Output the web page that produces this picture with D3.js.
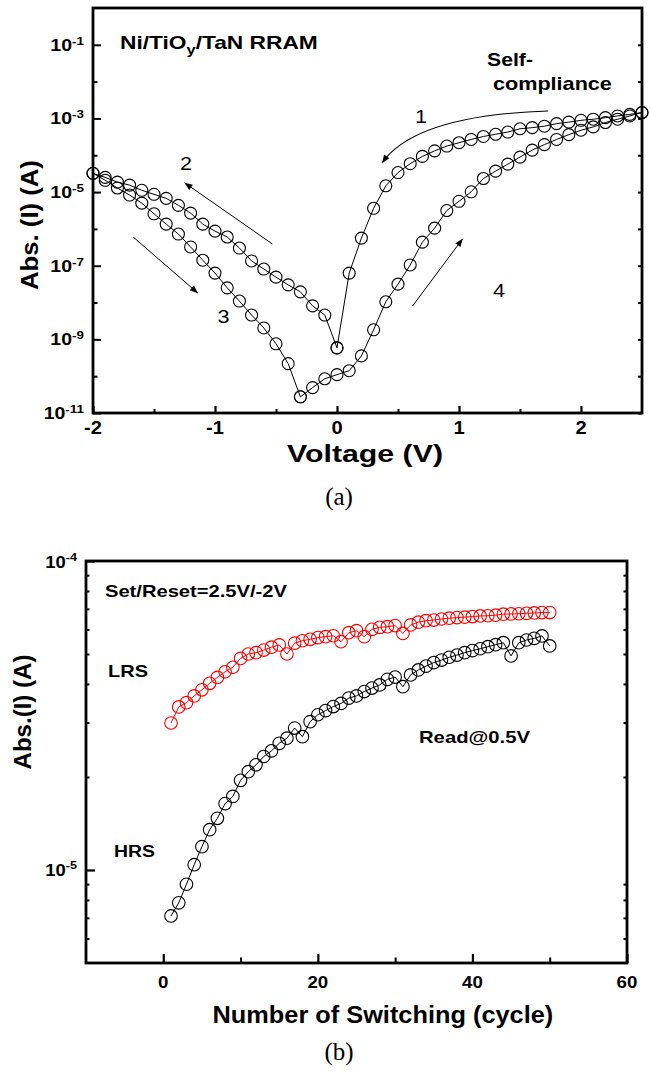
<!DOCTYPE html>
<html>
<head>
<meta charset="utf-8">
<script src="https://cdn.jsdelivr.net/npm/d3@7"></script>
<style>
  html, body { margin: 0; padding: 0; background: #fff; }
  svg { display: block; }
</style>
</head>
<body>
<script>
// ---------- Panel (a): I-V sweeps of the Ni/TiOy/TaN cell ----------
const sweep1V = [2.5, 2.4, 2.3, 2.2, 2.1, 2.0, 1.9, 1.8, 1.7, 1.6, 1.5, 1.4, 1.3, 1.2, 1.1, 1.0, 0.9, 0.8, 0.7, 0.6, 0.5, 0.4, 0.3, 0.2, 0.1, 0.0];
const sweep1I = [1.45e-3, 1.29e-3, 1.17e-3, 1.05e-3, 9.55e-4, 8.91e-4, 7.94e-4, 7.24e-4, 6.17e-4, 5.62e-4, 5.25e-4, 4.27e-4, 3.72e-4, 3.24e-4, 2.69e-4, 2.19e-4, 1.78e-4, 1.32e-4, 9.33e-5, 5.89e-5, 3.39e-5, 1.48e-5, 3.63e-6, 5.62e-7, 6.31e-8, 5.89e-10];

const sweep2V = [0.0, -0.1, -0.2, -0.3, -0.4, -0.5, -0.6, -0.7, -0.8, -0.9, -1.0, -1.1, -1.2, -1.3, -1.4, -1.5, -1.6, -1.7, -1.8, -1.9, -2.0];
const sweep2I = [5.89e-10, 4.57e-9, 8.13e-9, 1.95e-8, 3.02e-8, 4.90e-8, 8.13e-8, 1.35e-7, 3.02e-7, 6.03e-7, 8.71e-7, 1.35e-6, 2.69e-6, 4.37e-6, 6.76e-6, 8.71e-6, 1.12e-5, 1.55e-5, 1.86e-5, 2.51e-5, 3.24e-5];

const sweep3V = [-2.0, -1.9, -1.8, -1.7, -1.6, -1.5, -1.4, -1.3, -1.2, -1.1, -1.0, -0.9, -0.8, -0.7, -0.6, -0.5, -0.4, -0.3];
const sweep3I = [3.24e-5, 2.09e-5, 1.29e-5, 8.32e-6, 5.01e-6, 2.57e-6, 1.35e-6, 7.24e-7, 3.24e-7, 1.41e-7, 6.31e-8, 2.51e-8, 1.10e-8, 4.57e-9, 2.04e-9, 7.59e-10, 2.19e-10, 2.75e-11];

const sweep4V = [-0.3, -0.2, -0.1, 0.0, 0.1, 0.2, 0.3, 0.4, 0.5, 0.6, 0.7, 0.8, 0.9, 1.0, 1.1, 1.2, 1.3, 1.4, 1.5, 1.6, 1.7, 1.8, 1.9, 2.0, 2.1, 2.2, 2.3, 2.4, 2.5];
const sweep4I = [2.75e-11, 4.90e-11, 8.51e-11, 1.10e-10, 1.41e-10, 3.55e-10, 1.82e-9, 1.05e-8, 3.16e-8, 1.05e-7, 4.37e-7, 1.05e-6, 3.16e-6, 5.62e-6, 1.02e-5, 2.34e-5, 3.72e-5, 5.75e-5, 8.91e-5, 1.38e-4, 1.95e-4, 2.69e-4, 3.63e-4, 4.79e-4, 5.89e-4, 7.76e-4, 9.55e-4, 1.17e-3, 1.45e-3];

const voltTicksMajor = [-2, -1, 0, 1, 2];
const voltTicksMinor = [-1.5, -0.5, 0.5, 1.5];
const voltTickLabels = ["-2", "-1", "0", "1", "2"];
const currTicksLabelled = [1e-11, 1e-9, 1e-7, 1e-5, 1e-3, 1e-1];
const currTickExponents = ["-11", "-9", "-7", "-5", "-3", "-1"];
const currTicksUnlabelled = [1e-10, 1e-8, 1e-6, 1e-4, 1e-2];

// sweep-direction arrows: [startV, startI, endV, endI] (arrow 1 is curved through a control point)
const arrow1 = [1.73, 1.6e-3, 0.64, 1.2e-3, 0.37, 6.2e-5];
const arrow2 = [-0.53, 3.9e-7, -1.25, 1.8e-5];
const arrow3 = [-1.67, 6.0e-7, -1.14, 1.8e-8];
const arrow4 = [0.62, 8.1e-9, 1.03, 5.4e-7];

// ---------- Panel (b): read current vs. switching cycle ----------
const cycles = [1, 2, 3, 4, 5, 6, 7, 8, 9, 10, 11, 12, 13, 14, 15, 16, 17, 18, 19, 20, 21, 22, 23, 24, 25, 26, 27, 28, 29, 30, 31, 32, 33, 34, 35, 36, 37, 38, 39, 40, 41, 42, 43, 44, 45, 46, 47, 48, 49, 50];
const lrsCurrent = [2.99e-5, 3.37e-5, 3.48e-5, 3.66e-5, 3.83e-5, 4.02e-5, 4.20e-5, 4.38e-5, 4.53e-5, 4.84e-5,
                    5.00e-5, 5.05e-5, 5.15e-5, 5.26e-5, 5.35e-5, 5.00e-5, 5.42e-5, 5.52e-5, 5.58e-5, 5.65e-5,
                    5.69e-5, 5.73e-5, 5.48e-5, 5.86e-5, 5.95e-5, 5.69e-5, 6.01e-5, 6.10e-5, 6.13e-5, 6.18e-5,
                    5.83e-5, 6.21e-5, 6.34e-5, 6.41e-5, 6.44e-5, 6.49e-5, 6.53e-5, 6.56e-5, 6.58e-5, 6.61e-5,
                    6.64e-5, 6.65e-5, 6.68e-5, 6.73e-5, 6.74e-5, 6.75e-5, 6.77e-5, 6.79e-5, 6.81e-5, 6.81e-5];
const hrsCurrent = [7.10e-6, 7.83e-6, 8.99e-6, 1.04e-5, 1.19e-5, 1.35e-5, 1.47e-5, 1.64e-5, 1.73e-5, 1.95e-5,
                    2.08e-5, 2.19e-5, 2.33e-5, 2.43e-5, 2.57e-5, 2.67e-5, 2.88e-5, 2.70e-5, 3.02e-5, 3.18e-5,
                    3.28e-5, 3.38e-5, 3.46e-5, 3.60e-5, 3.66e-5, 3.78e-5, 3.88e-5, 3.97e-5, 4.14e-5, 4.21e-5,
                    3.92e-5, 4.28e-5, 4.44e-5, 4.57e-5, 4.69e-5, 4.78e-5, 4.88e-5, 4.96e-5, 5.05e-5, 5.13e-5,
                    5.20e-5, 5.28e-5, 5.36e-5, 5.44e-5, 4.93e-5, 5.44e-5, 5.55e-5, 5.62e-5, 5.72e-5, 5.31e-5];

const cycleTicksMajor = [0, 20, 40, 60];
const cycleTicksMinor = [10, 30, 50];
const cycleTickLabels = ["0", "20", "40", "60"];
const readTicksLabelled = [1e-5, 1e-4];
const readTickExponents = ["-5", "-4"];
const readTicksMinor = [6e-6, 7e-6, 8e-6, 9e-6, 2e-5, 3e-5, 4e-5, 5e-5, 6e-5, 7e-5, 8e-5, 9e-5];

// ---------- drawing ----------
const SANS = "'Liberation Sans', Arial, Helvetica, sans-serif";
const SERIF = "'Liberation Serif', 'Times New Roman', Times, serif";
const W = 651, H = 1080;

const svg = d3.select("body").append("svg").attr("width", W).attr("height", H);
svg.append("rect").attr("width", W).attr("height", H).attr("fill", "#fff");

const defs = svg.append("defs");
defs.append("marker")
  .attr("id", "head").attr("viewBox", "0 0 10 10")
  .attr("refX", 10).attr("refY", 5)
  .attr("markerWidth", 9).attr("markerHeight", 8)
  .attr("markerUnits", "userSpaceOnUse")
  .attr("orient", "auto")
  .append("path").attr("d", "M0,1 L10,5 L0,9 Z").attr("fill", "#000");

// Text helper: parts are strings or {t, size, rise}; the run is stretched to a given width when asked.
function putText(parent, parts, o) {
  const g = parent.append("g");
  const t = g.append("text")
    .attr("font-family", o.family || SANS)
    .attr("font-weight", o.weight || "bold")
    .attr("font-size", o.size)
    .attr("fill", o.fill || "#000");
  let shift = 0;
  parts.forEach(p => {
    const q = typeof p === "string" ? { t: p } : p;
    const target = -(q.rise || 0);
    const ts = t.append("tspan").attr("dy", target - shift).text(q.t);
    if (q.size) ts.attr("font-size", q.size);
    shift = target;
  });
  const w = t.node().getComputedTextLength();
  const sx = o.width ? o.width / w : (o.sx || 1);
  const frac = o.anchor === "middle" ? 0.5 : o.anchor === "end" ? 1 : 0;
  t.attr("x", -frac * w);
  g.attr("transform", `translate(${o.x},${o.y})` + (o.rotate ? ` rotate(${o.rotate})` : "") + ` scale(${sx},1)`);
  return g;
}

function tickAxis(g, axisFn, scale, values, size, pos, width) {
  g.append("g")
    .attr("transform", pos)
    .call(axisFn(scale).tickValues(values).tickSize(size).tickFormat(""))
    .call(s => s.select(".domain").remove())
    .call(s => s.selectAll(".tick line").attr("stroke", "#000").attr("stroke-width", width));
}

// ===== Panel (a) =====
const xA = d3.scaleLinear().domain([-2, 2.5]).range([93, 642]);
const yA = d3.scaleLog().domain([1e-11, 1]).range([413, 8]);
const gA = svg.append("g");

// ticks (inward)
tickAxis(gA, d3.axisLeft, yA, currTicksLabelled, -8, `translate(${xA(-2)},0)`, 2);
tickAxis(gA, d3.axisLeft, yA, currTicksUnlabelled, -4.5, `translate(${xA(-2)},0)`, 2);
tickAxis(gA, d3.axisRight, yA, currTicksLabelled.concat(currTicksUnlabelled), -4, `translate(${xA(2.5)},0)`, 2);
tickAxis(gA, d3.axisBottom, xA, voltTicksMajor, -7, `translate(0,${yA(1e-11)})`, 2.2);
tickAxis(gA, d3.axisBottom, xA, voltTicksMinor, -4, `translate(0,${yA(1e-11)})`, 2);

// frame
gA.append("rect")
  .attr("x", xA(-2)).attr("y", yA(1))
  .attr("width", xA(2.5) - xA(-2)).attr("height", yA(1e-11) - yA(1))
  .attr("fill", "none").attr("stroke", "#000").attr("stroke-width", 2.8);

// data
const sweeps = [[sweep1V, sweep1I], [sweep2V, sweep2I], [sweep3V, sweep3I], [sweep4V, sweep4I]];
const lineA = d3.line().x(d => xA(d[0])).y(d => yA(d[1]));
sweeps.forEach(([vs, is]) => {
  const pts = vs.map((v, i) => [v, is[i]]);
  gA.append("path").datum(pts).attr("d", lineA)
    .attr("fill", "none").attr("stroke", "#000").attr("stroke-width", 1);
  gA.append("g").selectAll("circle").data(pts).join("circle")
    .attr("cx", d => xA(d[0])).attr("cy", d => yA(d[1])).attr("r", 6)
    .attr("fill", "none").attr("stroke", "#000").attr("stroke-width", 1.1);
});

// arrows
gA.append("path")
  .attr("d", `M${xA(arrow1[0])},${yA(arrow1[1])} Q${xA(arrow1[2])},${yA(arrow1[3])} ${xA(arrow1[4])},${yA(arrow1[5])}`)
  .attr("fill", "none").attr("stroke", "#000").attr("stroke-width", 1.1).attr("marker-end", "url(#head)");
[arrow2, arrow3, arrow4].forEach(a => {
  gA.append("line")
    .attr("x1", xA(a[0])).attr("y1", yA(a[1])).attr("x2", xA(a[2])).attr("y2", yA(a[3]))
    .attr("stroke", "#000").attr("stroke-width", 1).attr("marker-end", "url(#head)");
});

// tick labels
currTicksLabelled.forEach((v, i) => {
  putText(gA, ["10", { t: currTickExponents[i], size: 11, rise: 6 }],
    { x: 84, y: yA(v) + 6, size: 16, anchor: "end", sx: 1.22 });
});
voltTicksMajor.forEach((v, i) => {
  putText(gA, [voltTickLabels[i]], { x: xA(v), y: 434, size: 18, anchor: "middle", sx: 1.12 });
});

// titles and notes
putText(gA, ["Voltage (V)"], { x: 365, y: 462, size: 24, anchor: "middle", width: 156 });
putText(gA, ["Abs. (I) (A)"], { x: 38, y: 225, size: 24, anchor: "middle", rotate: -90, width: 130 });
putText(gA, ["Ni/TiO", { t: "y", size: 13, rise: -5 }, "/TaN RRAM"], { x: 120, y: 48.5, size: 18, width: 198 });
putText(gA, ["Self-"], { x: 487, y: 66, size: 18, width: 46 });
putText(gA, ["compliance"], { x: 493, y: 90, size: 18, width: 119 });
putText(gA, ["1"], { x: 421, y: 123, size: 18, weight: "normal", anchor: "middle", sx: 1.2 });
putText(gA, ["2"], { x: 186, y: 170, size: 18, weight: "normal", anchor: "middle", sx: 1.2 });
putText(gA, ["3"], { x: 223.5, y: 323, size: 18, weight: "normal", anchor: "middle", sx: 1.2 });
putText(gA, ["4"], { x: 499, y: 297, size: 18, weight: "normal", anchor: "middle", sx: 1.2 });
putText(gA, ["(a)"], { x: 339, y: 505, size: 25, weight: "normal", family: SERIF, anchor: "middle" });

// ===== Panel (b) =====
const xB = d3.scaleLinear().domain([-10, 60]).range([86, 627]);
const yB = d3.scaleLog().domain([5e-6, 1e-4]).range([963, 561]);
const gB = svg.append("g");

tickAxis(gB, d3.axisLeft, yB, readTicksLabelled, -9, `translate(${xB(-10)},0)`, 2.2);
tickAxis(gB, d3.axisLeft, yB, readTicksMinor, -3.5, `translate(${xB(-10)},0)`, 2);
tickAxis(gB, d3.axisRight, yB, readTicksMinor, -3.5, `translate(${xB(60)},0)`, 2);
tickAxis(gB, d3.axisBottom, xB, cycleTicksMajor, -9, `translate(0,${yB(5e-6)})`, 2.2);
tickAxis(gB, d3.axisBottom, xB, cycleTicksMinor, -5.5, `translate(0,${yB(5e-6)})`, 2);

gB.append("rect")
  .attr("x", xB(-10)).attr("y", yB(1e-4))
  .attr("width", xB(60) - xB(-10)).attr("height", yB(5e-6) - yB(1e-4))
  .attr("fill", "none").attr("stroke", "#000").attr("stroke-width", 2.8);

const lineB = d3.line().x(d => xB(d[0])).y(d => yB(d[1]));
[[lrsCurrent, "#ff0000"], [hrsCurrent, "#000"]].forEach(([vals, col]) => {
  const pts = cycles.map((c, i) => [c, vals[i]]);
  gB.append("path").datum(pts).attr("d", lineB)
    .attr("fill", "none").attr("stroke", col).attr("stroke-width", 1);
  gB.append("g").selectAll("circle").data(pts).join("circle")
    .attr("cx", d => xB(d[0])).attr("cy", d => yB(d[1])).attr("r", 6.3)
    .attr("fill", "none").attr("stroke", col).attr("stroke-width", 1.1);
});

readTicksLabelled.forEach((v, i) => {
  putText(gB, ["10", { t: readTickExponents[i], size: 11, rise: 7 }],
    { x: 77, y: yB(v) + 6.5, size: 16, anchor: "end", sx: 1.15 });
});
cycleTicksMajor.forEach((v, i) => {
  putText(gB, [cycleTickLabels[i]], { x: xB(v), y: 988, size: 17, anchor: "middle", sx: 1.1 });
});

putText(gB, ["Number of Switching (cycle)"], { x: 383, y: 1023, size: 24, anchor: "middle", width: 341 });
putText(gB, ["Abs.(I) (A)"], { x: 31, y: 712, size: 24, anchor: "middle", rotate: -90, width: 115 });
putText(gB, ["Set/Reset=2.5V/-2V"], { x: 105, y: 597, size: 17, width: 182 });
putText(gB, ["LRS"], { x: 108, y: 677, size: 17, width: 40 });
putText(gB, ["HRS"], { x: 114, y: 857, size: 17, width: 41 });
putText(gB, ["Read@0.5V"], { x: 419, y: 743, size: 17, width: 111 });
putText(gB, ["(b)"], { x: 339, y: 1060, size: 25, weight: "normal", family: SERIF, anchor: "middle" });
</script>
</body>
</html>
